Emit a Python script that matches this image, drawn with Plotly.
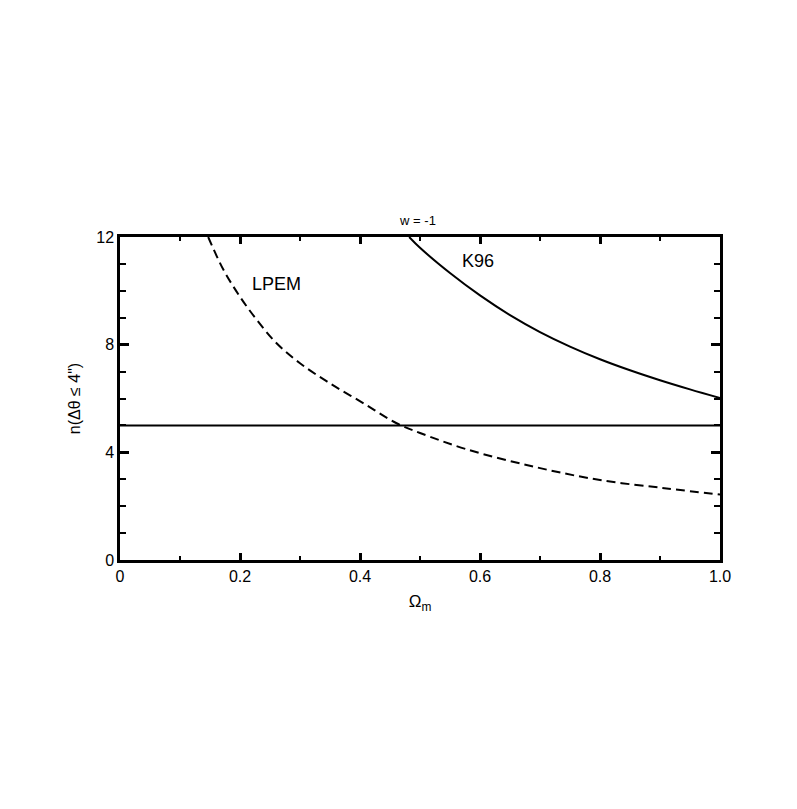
import plotly.graph_objects as go

# LPEM (dashed) curve
lpem_om = [0.147, 0.172, 0.2, 0.228, 0.261, 0.3, 0.35, 0.406, 0.461, 0.5, 0.578, 0.689, 0.8, 0.911, 1.0]
lpem_n = [12.0, 10.8, 9.78, 8.92, 8.05, 7.31, 6.56, 5.82, 5.08, 4.72, 4.11, 3.47, 2.97, 2.66, 2.43]

# K96 (solid) curve
k96_om = [0.482, 0.5, 0.55, 0.6, 0.65, 0.7, 0.75, 0.8, 0.85, 0.9, 0.95, 1.0]
k96_n = [12.0, 11.6, 10.66, 9.83, 9.1, 8.47, 7.93, 7.46, 7.05, 6.68, 6.34, 6.02]

# horizontal reference level
ref_om = [0.0, 1.0]
ref_n = [5.0, 5.0]

x_ticks = [0, 0.2, 0.4, 0.6, 0.8, 1.0]
x_ticktext = ["0", "0.2", "0.4", "0.6", "0.8", "1.0"]
y_ticks = [0, 4, 8, 12]

FONT = "Liberation Sans, Arial, Helvetica, sans-serif"

fig = go.Figure()
fig.add_trace(go.Scatter(x=ref_om, y=ref_n, mode="lines",
                         line=dict(color="black", width=2)))
fig.add_trace(go.Scatter(x=lpem_om, y=lpem_n, mode="lines",
                         line=dict(color="black", width=2, dash="9px,5px", shape="spline")))
fig.add_trace(go.Scatter(x=k96_om, y=k96_n, mode="lines",
                         line=dict(color="black", width=2, shape="spline")))

fig.add_annotation(x=0.26, y=10.25, text="LPEM", showarrow=False,
                   font=dict(size=18, color="black", family=FONT))
fig.add_annotation(x=0.597, y=11.1, text="K96", showarrow=False,
                   font=dict(size=18, color="black", family=FONT))

axis_common = dict(
    showline=True, linecolor="black", linewidth=2.5, mirror="ticks",
    ticks="inside", tickwidth=2.5, tickcolor="black",
    showgrid=False, zeroline=False,
    tickfont=dict(size=16, color="black", family=FONT),
)

fig.update_xaxes(
    range=[0, 1], tickvals=x_ticks, ticktext=x_ticktext, ticklen=7,
    minor=dict(dtick=0.1, ticks="inside", ticklen=4, tickwidth=2, tickcolor="black"),
    title=dict(text="Ω<sub>m</sub>", font=dict(size=17, color="black", family=FONT), standoff=12),
    **axis_common,
)
fig.update_yaxes(
    range=[0, 12], tickvals=y_ticks, ticklen=9,
    minor=dict(dtick=1, ticks="inside", ticklen=6, tickwidth=2, tickcolor="black"),
    title=dict(text="n(Δθ ≤ 4\")", font=dict(size=16, color="black", family=FONT), standoff=12),
    **axis_common,
)

fig.update_layout(
    width=797, height=809,
    margin=dict(l=112, r=85, t=229, b=257),
    plot_bgcolor="white", paper_bgcolor="white",
    showlegend=False,
    title=dict(text="w = -1", x=0.5144, xanchor="center", y=1 - 212 / 809, yanchor="middle",
               font=dict(size=13, color="black", family=FONT)),
)

fig.write_html("out.html")
